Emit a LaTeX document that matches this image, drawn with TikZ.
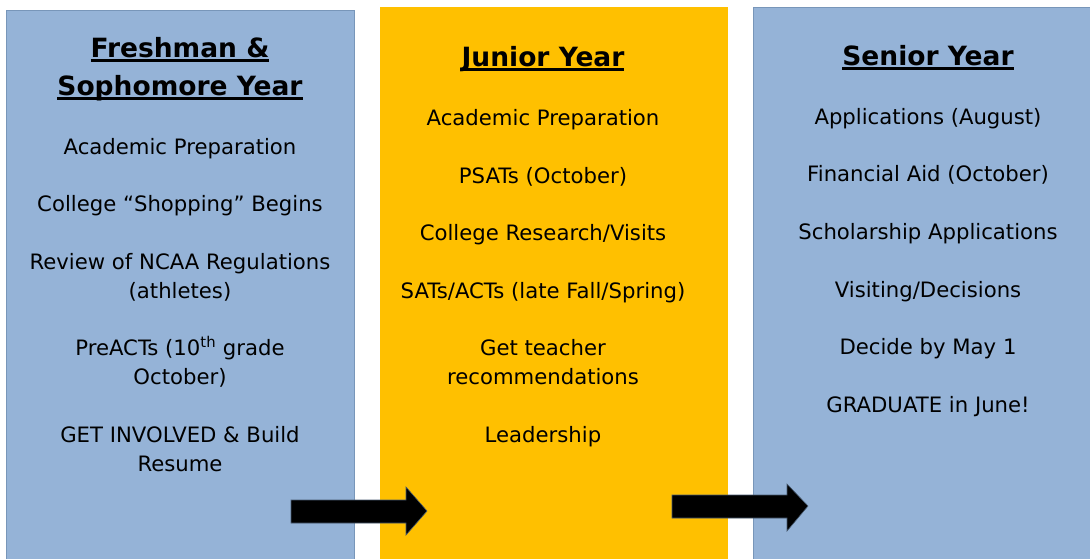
\documentclass[tikz,border=0pt]{standalone}
\usepackage{fontspec}
\setmainfont{DejaVu Sans}
\definecolor{colblue}{RGB}{149,179,215}
\definecolor{coledge}{RGB}{120,150,185}
\definecolor{colyel}{RGB}{255,192,0}
\newcommand\myul[1]{\setbox0\hbox{#1}\rlap{\rule[-5pt]{\wd0}{2.6pt}}\box0}
\tikzset{
  item/.style={anchor=base, inner sep=0pt, font=\fontsize{21.2}{29}\selectfont, text=black},
  ttl/.style={anchor=base, inner sep=0pt, font=\fontsize{26.5}{36}\selectfont\bfseries, text=black},
  blockarrow/.style={fill=black, draw=coledge!60!black, line width=0.6pt}
}
\begin{document}
\begin{tikzpicture}[x=1pt,y=-1pt]
\useasboundingbox (0,0) rectangle (1090,558);
\fill[white] (0,0) rectangle (1090,558);
% columns
\filldraw[fill=colblue, draw=coledge, line width=0.8pt] (6,10) rectangle (354,560);
\fill[colyel] (380,7) rectangle (728,560);
\filldraw[fill=colblue, draw=coledge, line width=0.8pt] (753,7) rectangle (1092,560);
% left column
\node[ttl] (l0a) at (180,57) {\myul{Freshman \&}};
\node[ttl] (l0b) at (180,95) {\myul{Sophomore Year}};
\node[item] (l1) at (180,154) {Academic Preparation};
\node[item] (l2) at (180,211) {College “Shopping” Begins};
\node[item] (l3a) at (180,269) {Review of NCAA Regulations};
\node[item] (l3b) at (180,298) {(athletes)};
\node[item] (l4a) at (180,355) {PreACTs (10\textsuperscript{th} grade};
\node[item] (l4b) at (180,384) {October)};
\node[item] (l5a) at (180,442) {GET INVOLVED \& Build};
\node[item] (l5b) at (180,471) {Resume};
% middle column
\node[ttl] (m0) at (543,66) {\myul{Junior Year}};
\node[item] (m1) at (543,125) {Academic Preparation};
\node[item] (m2) at (543,183) {PSATs (October)};
\node[item] (m3) at (543,240) {College Research/Visits};
\node[item] (m4) at (543,298) {SATs/ACTs (late Fall/Spring)};
\node[item] (m5a) at (543,355) {Get teacher};
\node[item] (m5b) at (543,384) {recommendations};
\node[item] (m6) at (543,442) {Leadership};
% right column
\node[ttl] (r0) at (928,65) {\myul{Senior Year}};
\node[item] (r1) at (928,124) {Applications (August)};
\node[item] (r2) at (928,181) {Financial Aid (October)};
\node[item] (r3) at (928,239) {Scholarship Applications};
\node[item] (r4) at (928,297) {Visiting/Decisions};
\node[item] (r5) at (928,354) {Decide by May 1};
\node[item] (r6) at (928,412) {GRADUATE in June!};
% block arrows
\draw[blockarrow] (291,500) -- (406,500) -- (406,487) -- (427,511) -- (406,535) -- (406,523) -- (291,523) -- cycle;
\draw[blockarrow] (672,495) -- (787,495) -- (787,484) -- (808,506) -- (787,531) -- (787,518) -- (672,518) -- cycle;
\end{tikzpicture}
\end{document}
